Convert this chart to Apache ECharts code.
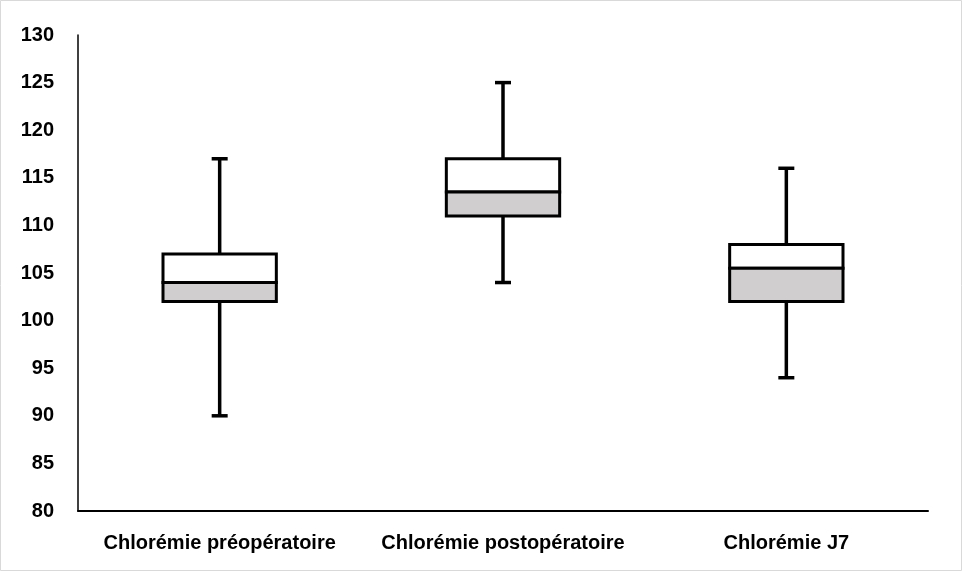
<!DOCTYPE html>
<html>
<head>
<meta charset="utf-8">
<script src="https://cdn.jsdelivr.net/npm/echarts@6/dist/echarts.min.js"></script>
<style>
html,body{margin:0;padding:0;background:#fff;}
#chart{width:962px;height:571px;}
</style>
</head>
<body>
<div id="chart"></div>
<script>
var categories = ['Chlorémie préopératoire', 'Chlorémie postopératoire', 'Chlorémie J7'];
var minValues = [90, 104, 94];
var q1Values = [102, 111, 102];
var medianValues = [104, 113.5, 105.5];
var q3Values = [107, 117, 108];
var maxValues = [117, 125, 116];
var yMin = 80, yMax = 130, yStep = 5;

var boxData = [];
for (var i = 0; i < categories.length; i++) {
	boxData.push([i, minValues[i], q1Values[i], medianValues[i], q3Values[i], maxValues[i]]);
}

function renderBox(params, api) {
	var idx = api.value(0);
	var pMin = api.coord([idx, api.value(1)]);
	var pQ1 = api.coord([idx, api.value(2)]);
	var pMed = api.coord([idx, api.value(3)]);
	var pQ3 = api.coord([idx, api.value(4)]);
	var pMax = api.coord([idx, api.value(5)]);
	var cx = pMed[0];
	var bw = api.size([1, 0])[0] * 0.4;
	var cap = 8;
	var stroke = {stroke: '#000', lineWidth: 3.5};
	return {
		type: 'group',
		children: [
			{type: 'line', shape: {x1: cx, y1: pMax[1], x2: cx, y2: pQ3[1]}, style: stroke},
			{type: 'line', shape: {x1: cx, y1: pQ1[1], x2: cx, y2: pMin[1]}, style: stroke},
			{type: 'line', shape: {x1: cx - cap, y1: pMax[1], x2: cx + cap, y2: pMax[1]}, style: stroke},
			{type: 'line', shape: {x1: cx - cap, y1: pMin[1], x2: cx + cap, y2: pMin[1]}, style: stroke},
			{type: 'rect', shape: {x: cx - bw / 2, y: pQ3[1], width: bw, height: pMed[1] - pQ3[1]},
				style: {fill: '#ffffff', stroke: '#000', lineWidth: 3}},
			{type: 'rect', shape: {x: cx - bw / 2, y: pMed[1], width: bw, height: pQ1[1] - pMed[1]},
				style: {fill: '#d0cece', stroke: '#000', lineWidth: 3}}
		]
	};
}

var option = {
	backgroundColor: '#fff',
	animation: false,
	graphic: [{
		type: 'rect',
		shape: {x: 0.5, y: 0.5, width: 961, height: 570},
		style: {fill: 'none', stroke: '#d9d9d9', lineWidth: 1},
		silent: true
	}],
	grid: {left: 78, right: 34, top: 35, bottom: 60},
	xAxis: {
		type: 'category',
		data: categories,
		axisLine: {lineStyle: {color: '#000', width: 2}},
		axisTick: {show: false},
		axisLabel: {
			interval: 0,
			color: '#000',
			fontWeight: 'bold',
			fontSize: 20,
			fontFamily: 'Liberation Sans',
			margin: 22
		},
		splitLine: {show: false}
	},
	yAxis: {
		type: 'value',
		min: yMin,
		max: yMax,
		interval: yStep,
		axisLine: {show: true, lineStyle: {color: '#000', width: 1.5}},
		axisTick: {show: false},
		axisLabel: {
			color: '#000',
			fontWeight: 'bold',
			fontSize: 20,
			fontFamily: 'Liberation Sans',
			margin: 24
		},
		splitLine: {show: false}
	},
	series: [{
		type: 'custom',
		renderItem: renderBox,
		encode: {x: 0, y: [1, 2, 3, 4, 5]},
		data: boxData,
		z: 3
	}]
};

var myChart = echarts.init(document.getElementById('chart'));
myChart.setOption(option);
</script>
</body>
</html>
